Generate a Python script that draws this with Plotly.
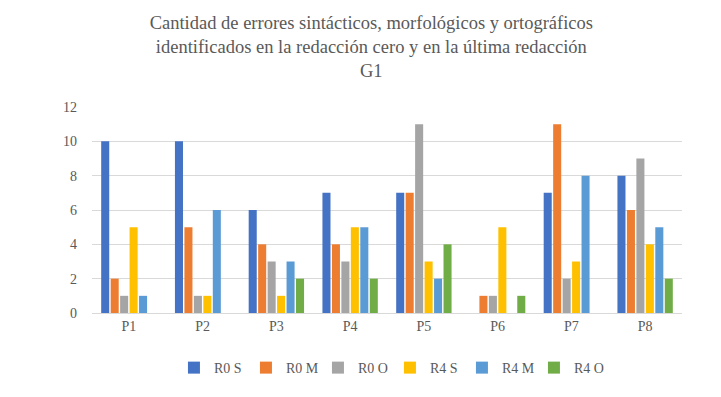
import plotly.graph_objects as go

categories = ["P1", "P2", "P3", "P4", "P5", "P6", "P7", "P8"]
series_names = ["R0 S", "R0 M", "R0 O", "R4 S", "R4 M", "R4 O"]
r0_s = [10, 10, 6, 7, 7, 0, 7, 8]
r0_m = [2, 5, 4, 4, 7, 1, 11, 6]
r0_o = [1, 1, 3, 3, 11, 1, 2, 9]
r4_s = [5, 1, 1, 5, 3, 5, 3, 4]
r4_m = [1, 6, 3, 5, 2, 0, 8, 5]
r4_o = [0, 0, 2, 2, 4, 1, 0, 2]
y_ticks = [0, 2, 4, 6, 8, 10, 12]
colors = ["#4472C4", "#ED7D31", "#A5A5A5", "#FFC000", "#5B9BD5", "#70AD47"]

values = [r0_s, r0_m, r0_o, r4_s, r4_m, r4_o]

fig = go.Figure()
for name, vals, col in zip(series_names, values, colors):
    fig.add_trace(go.Bar(x=categories, y=vals, name=name, marker_color=col,
                         marker_line_width=0))

font = "Liberation Serif, Times New Roman, serif"
grey = "#595959"
fig.update_layout(
    width=721, height=397,
    paper_bgcolor="white", plot_bgcolor="white",
    font=dict(family=font, color=grey, size=14),
    title=dict(
        text="Cantidad de errores sintácticos, morfológicos y ortográficos<br>identificados en la redacción cero y en la última redacción<br>G1",
        x=0.515, xanchor="center", yref="container", y=0.928, yanchor="top",
        font=dict(family=font, size=18.5, color=grey),
    ),
    barmode="group", bargap=0.23, bargroupgap=0.15,
    margin=dict(l=92, r=39, t=107, b=84, autoexpand=False),
    xaxis=dict(showgrid=False, showline=True, linecolor="#D9D9D9", linewidth=1,
               ticks="", tickfont=dict(family=font, size=14, color=grey)),
    yaxis=dict(range=[0, 12], tickvals=y_ticks, showgrid=True, gridcolor="#D9D9D9",
               gridwidth=1, zeroline=False, showline=False, ticks="",
               tickfont=dict(family=font, size=14, color=grey), ticklabelstandoff=14),
    legend=dict(orientation="h", x=0.505, xanchor="center", yref="container",
                y=0.073, yanchor="middle",
                font=dict(family=font, size=14, color=grey),
                entrywidthmode="pixels", entrywidth=27, traceorder="normal",
                itemwidth=30),
    showlegend=True,
)
fig.write_html("out.html", config={"displayModeBar": False},
               post_script="document.body.style.margin='0';document.body.style.padding='0';")
